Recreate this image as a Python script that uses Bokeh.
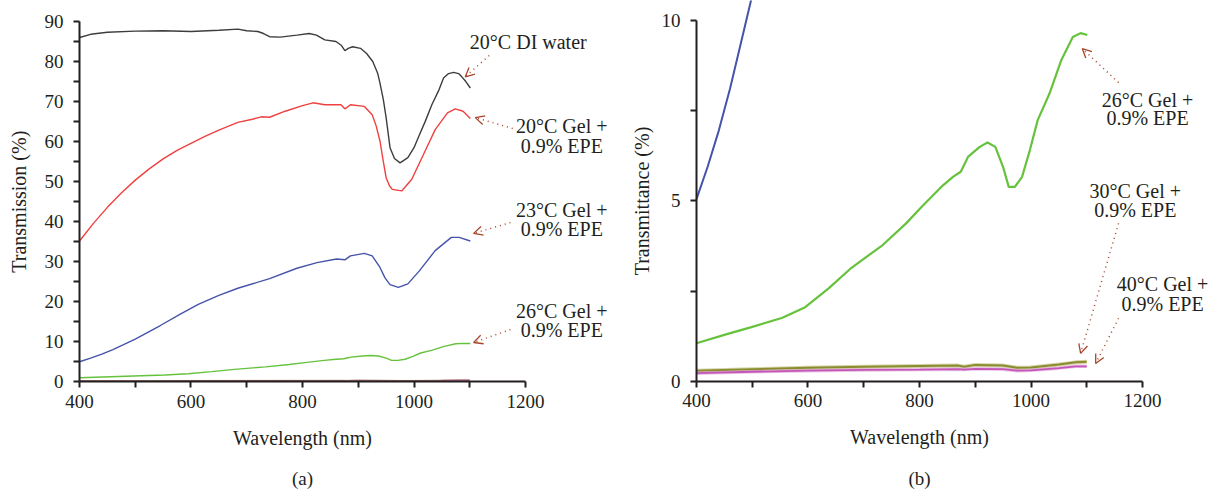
import math
from bokeh.plotting import figure
from bokeh.layouts import row
from bokeh.models import Range1d, FixedTicker, Label, Arrow, OpenHead
from bokeh.embed import file_html
from bokeh.resources import INLINE

# ---------------- data ----------------
wl_water = [400, 420, 450, 500, 550, 600, 650, 684, 700, 720, 730, 741, 760, 790, 812, 825, 840, 860,
            870, 876, 882, 890, 904, 915, 926, 935, 939, 945, 950, 957, 965, 975, 989, 1000, 1010,
            1020, 1032, 1045, 1053, 1062, 1071, 1080, 1085, 1093, 1101]
t_water = [86.0, 86.8, 87.3, 87.6, 87.7, 87.5, 87.8, 88.1, 87.7, 87.5, 87.0, 86.2, 86.1, 86.6, 87.0,
           86.6, 85.4, 85.0, 84.0, 82.7, 83.3, 83.7, 83.3, 82.0, 80.0, 77.0, 74.6, 70.5, 66.0, 58.5,
           55.8, 54.7, 56.0, 58.5, 61.8, 65.0, 69.2, 73.0, 75.9, 77.0, 77.3, 77.0, 76.3, 75.0, 73.4]

wl_gel20 = [400, 425, 450, 475, 500, 525, 550, 575, 600, 625, 650, 684, 710, 726, 741, 769, 800, 819,
            840, 860, 869, 876, 886, 911, 925, 932, 939, 945, 950, 956, 961, 978, 996, 1017, 1038,
            1060, 1074, 1088, 1101]
t_gel20 = [35.2, 39.6, 43.6, 47.2, 50.4, 53.2, 55.7, 57.8, 59.6, 61.3, 62.9, 64.8, 65.6, 66.2, 66.1,
           67.6, 69.0, 69.7, 69.2, 69.2, 69.2, 68.2, 69.2, 68.8, 66.7, 64.0, 60.1, 55.0, 51.0, 49.0,
           48.1, 47.7, 50.6, 56.8, 63.0, 67.2, 68.2, 67.6, 65.8]

wl_gel23 = [400, 420, 440, 460, 480, 500, 520, 545, 580, 613, 650, 684, 741, 790, 826, 861, 876, 886,
            911, 925, 939, 948, 957, 972, 989, 1010, 1038, 1067, 1081, 1101]
t_gel23 = [5.05, 5.95, 6.95, 8.1, 9.4, 10.7, 12.2, 14.1, 16.9, 19.4, 21.6, 23.4, 25.8, 28.4, 29.8,
           30.7, 30.5, 31.5, 32.1, 31.5, 28.6, 26.0, 24.3, 23.6, 24.5, 27.8, 32.8, 36.1, 36.1, 35.2]

wl_gel26 = [400, 456, 497, 553, 595, 637, 678, 734, 776, 804, 839, 860, 874, 880, 887, 908, 922, 936,
            950, 960, 971, 984, 998, 1012, 1033, 1054, 1075, 1089, 1101]
t_gel26 = [1.06, 1.32, 1.50, 1.76, 2.06, 2.58, 3.15, 3.78, 4.38, 4.84, 5.39, 5.67, 5.81, 6.0, 6.22,
           6.5, 6.62, 6.5, 5.94, 5.39, 5.39, 5.67, 6.41, 7.24, 7.97, 8.89, 9.54, 9.65, 9.6]

wl_gel30 = [400, 500, 600, 700, 800, 870, 880, 900, 950, 975, 1000, 1050, 1080, 1100]
t_gel30 = [0.30, 0.34, 0.38, 0.41, 0.43, 0.44, 0.41, 0.46, 0.44, 0.38, 0.39, 0.47, 0.53, 0.55]

wl_gel40 = [400, 500, 600, 700, 800, 870, 880, 900, 950, 975, 1000, 1050, 1080, 1100]
t_gel40 = [0.23, 0.27, 0.30, 0.32, 0.33, 0.34, 0.33, 0.35, 0.34, 0.30, 0.31, 0.37, 0.42, 0.42]

x_ticks = [400, 600, 800, 1000, 1200]
x_minor = [500, 700, 900, 1100]
ya_ticks = [0, 10, 20, 30, 40, 50, 60, 70, 80, 90]
ya_minor = [5, 15, 25, 35, 45, 55, 65, 75, 85]
yb_ticks = [0, 5, 10]
yb_minor = [2.5, 7.5]

label_water = "20°C DI water"
label_gel20 = ["20°C Gel +", "0.9% EPE"]
label_gel23 = ["23°C Gel +", "0.9% EPE"]
label_gel26 = ["26°C Gel +", "0.9% EPE"]
label_gel30 = ["30°C Gel +", "0.9% EPE"]
label_gel40 = ["40°C Gel +", "0.9% EPE"]

# ---------------- style ----------------
FONT = "Liberation Serif, serif"
TXT = "#231f20"
ARROW = "#a8452a"
C_WATER = "#3d3d3d"
C_RED = "#f04040"
C_BLUE = "#4553aa"
C_GREEN = "#66c23c"
C_OLIVE = "#8a8c2e"
C_MAG = "#c456b8"
FS = "19px"
FS_AX = "20px"
FS_ANN = "20px"


def make_fig(width, xr, yr, ybounds, yt, ym):
    p = figure(width=width, height=489, x_range=Range1d(*xr), y_range=Range1d(*yr),
               output_backend="svg", toolbar_location=None,
               min_border_left=0, min_border_right=0, min_border_top=0, min_border_bottom=0)
    p.grid.visible = False
    p.outline_line_color = None
    p.background_fill_color = "white"
    p.border_fill_color = "white"
    p.xaxis.ticker = FixedTicker(ticks=x_ticks, minor_ticks=x_minor)
    p.yaxis.ticker = FixedTicker(ticks=yt, minor_ticks=ym)
    p.xaxis.fixed_location = 0
    p.yaxis.fixed_location = 400
    p.xaxis.bounds = (400, 1200)
    p.yaxis.bounds = ybounds
    for ax in (p.xaxis, p.yaxis):
        ax.axis_line_width = 2
        ax.axis_line_color = TXT
        ax.major_tick_line_width = 2
        ax.minor_tick_line_width = 2
        ax.major_tick_line_color = TXT
        ax.minor_tick_line_color = TXT
        ax.major_tick_in = 0
        ax.minor_tick_in = 0
        ax.major_tick_out = 6
        ax.minor_tick_out = 6
        ax.major_label_text_font = FONT
        ax.major_label_text_font_size = FS
        ax.major_label_text_color = TXT
    p.xaxis.major_label_standoff = 7
    p.yaxis.major_label_standoff = 10
    return p


def add_label(p, x, y, text, size=FS_ANN, angle=0.0):
    p.add_layout(Label(x=x, y=y, text=text, text_font=FONT, text_font_size=size, text_color=TXT,
                       text_align="center", text_baseline="middle", angle=angle))


def add_arrow(p, xs, ys, xe, ye):
    p.add_layout(Arrow(end=OpenHead(size=9, line_color=ARROW, line_width=1.3),
                       x_start=xs, y_start=ys, x_end=xe, y_end=ye,
                       line_color=ARROW, line_width=1.5, line_dash="1 4"))


# ---------------- panel (a) ----------------
pa = make_fig(620, (258.3, 1370.4), (-26.84, 95.24), (0, 90), ya_ticks, ya_minor)
pa.line(wl_gel40, t_gel40, line_color=C_MAG, line_width=1.5)
pa.line(wl_gel30, t_gel30, line_color=C_OLIVE, line_width=1.0, line_alpha=0.6)
pa.line(wl_gel26, t_gel26, line_color=C_GREEN, line_width=1.4)
pa.line(wl_gel23, t_gel23, line_color=C_BLUE, line_width=1.4)
pa.line(wl_gel20, t_gel20, line_color=C_RED, line_width=1.4)
pa.line(wl_water, t_water, line_color=C_WATER, line_width=1.4)

add_label(pa, 800, -13.86, "Wavelength (nm)", FS_AX)
add_label(pa, 800, -24.09, "(a)", FS)
add_label(pa, 291.0, 45.0, "Transmission (%)", FS_AX, math.pi / 2)

add_label(pa, 1205, 84.8, label_water)
add_arrow(pa, 1135, 81.5, 1092, 76.2)
add_label(pa, 1265, 64.0, label_gel20[0])
add_label(pa, 1265, 59.0, label_gel20[1])
add_arrow(pa, 1177, 63.3, 1110, 66.0)
add_label(pa, 1265, 43.0, label_gel23[0])
add_label(pa, 1265, 38.1, label_gel23[1])
add_arrow(pa, 1173, 39.8, 1107, 37.1)
add_label(pa, 1265, 17.6, label_gel26[0])
add_label(pa, 1265, 12.9, label_gel26[1])
add_arrow(pa, 1173, 13.1, 1107, 9.86)

# ---------------- panel (b) ----------------
pb = make_fig(598, (263.7, 1336.3), (-2.992, 10.554), (0, 10), yb_ticks, yb_minor)
pb.line(wl_gel30, t_gel30, line_color="#b8b870", line_width=4, line_alpha=0.6)
pb.line(wl_gel30, t_gel30, line_color=C_OLIVE, line_width=2)
pb.line(wl_gel40, t_gel40, line_color="#dd99d4", line_width=3.5, line_alpha=0.6)
pb.line(wl_gel40, t_gel40, line_color=C_MAG, line_width=1.8)
pb.line(wl_gel26, t_gel26, line_color=C_GREEN, line_width=2.2)
pb.line(wl_gel23, t_gel23, line_color=C_BLUE, line_width=2.0)

add_label(pb, 800, -1.551, "Wavelength (nm)", FS_AX)
add_label(pb, 800, -2.687, "(b)", FS)
add_label(pb, 303.0, 5.0, "Transmittance (%)", FS_AX, math.pi / 2)

add_label(pb, 1209, 7.81, label_gel26[0])
add_label(pb, 1209, 7.29, label_gel26[1])
add_arrow(pb, 1157, 8.28, 1092, 9.22)
add_label(pb, 1187, 5.29, label_gel30[0])
add_label(pb, 1187, 4.74, label_gel30[1])
add_arrow(pb, 1157, 4.38, 1089, 0.78)
add_label(pb, 1236, 2.71, label_gel40[0])
add_label(pb, 1236, 2.16, label_gel40[1])
add_arrow(pb, 1157, 1.75, 1116, 0.50)

layout = row(pa, pb)
open("out.html", "w").write(file_html(layout, INLINE))
